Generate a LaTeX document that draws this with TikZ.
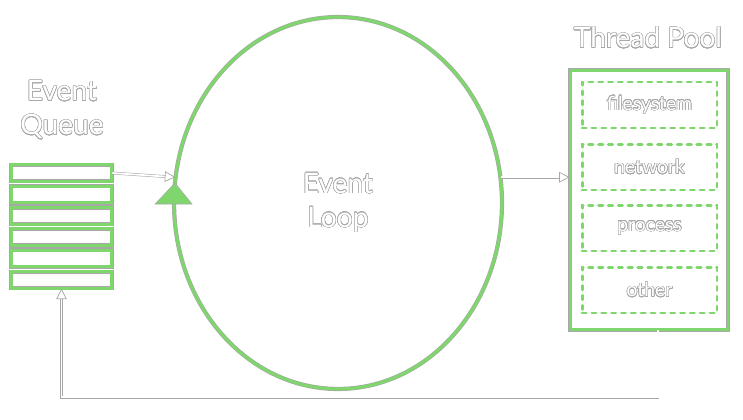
\documentclass[tikz,border=0pt]{standalone}
\usepackage{fontspec}
\setmainfont{Lato}
\usepackage{contour}
\usepackage{tikz}
\usetikzlibrary{shapes.geometric, arrows.meta, positioning}
\definecolor{loopgreen}{HTML}{7ED66C}
\definecolor{edgegray}{HTML}{A8A8A8}
\contourlength{0.3pt}
\contournumber{24}
\newcommand{\outl}[1]{\contour{edgegray}{#1}}

\begin{document}
\begin{tikzpicture}[x=0.02cm, y=-0.02cm,
        greenline/.style={draw=edgegray, line width=0.35pt, double=loopgreen, double distance=1.7pt},
        qbar/.style={greenline, fill=white, minimum width=2.02cm, minimum height=0.33cm, inner sep=0pt},
        slot/.style={draw=loopgreen, line width=1.7pt, dash pattern=on 2.4pt off 3.2pt, line cap=round,
            minimum width=2.7cm, minimum height=0.92cm, text=white, font=\fontsize{11}{13}\selectfont},
        wire/.style={draw=edgegray, line width=0.3pt, double=white, double distance=1pt,
            -{Triangle[open, length=6pt, width=6pt, line width=0.4pt]}},
        title/.style={text=white, align=center, font=\fontsize{16}{19.3}\selectfont}]
        \useasboundingbox (0,0) rectangle (743,419);
        \foreach \i in {1,...,6}
            \node[qbar] (q\i) at (61.5, 151.6+21.4*\i) {};
        \node[title] (qlabel) at (62,110) {\outl{Event}\\\outl{Queue}};
        \node[greenline, ellipse, minimum width=6.56cm, minimum height=7.44cm, title] (loop) at (338,203)
            {\outl{Event}\\\outl{Loop}};
        \filldraw[draw=edgegray, line width=0.3pt, fill=loopgreen] (175,183) -- (192,204) -- (155,204) -- cycle;
        \node[greenline, fill=white, minimum width=3.16cm, minimum height=5.2cm] (pool) at (649,200) {};
        \node[title] (plabel) at (648,38) {\outl{Thread Pool}};
        \node[slot] (fs) at (649.5,105) {\outl{filesystem}};
        \node[slot] (net) at (649.5,167) {\outl{network}};
        \node[slot] (proc) at (649.5,228) {\outl{process}};
        \node[slot] (other) at (649.5,290) {\outl{other}};
        \draw[wire] (q1.east) -- (loop.171);
        \draw[wire] (loop.9) -- (loop.9 -| pool.west);
        \draw[wire] ([xshift=0.18cm]pool.south) -- ++(0,67) -| (q6.south);
    \end{tikzpicture}
\end{document}
